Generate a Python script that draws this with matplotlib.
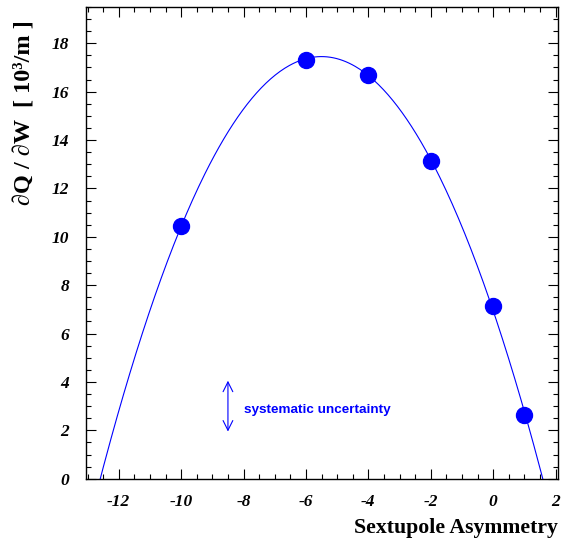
import numpy as np
import matplotlib
matplotlib.use('Agg')
import matplotlib.pyplot as plt
from matplotlib.ticker import MultipleLocator

# measured points (sextupole asymmetry vs dQ/dW)
asym = [-10, -6, -4, -2, 0, 1]
dqdw = [10.45, 17.3, 16.7, 13.15, 7.15, 2.65]

plt.rcParams['axes.unicode_minus'] = False
serif = ['Liberation Serif', 'DejaVu Serif']

fig = plt.figure(figsize=(5.70, 5.44), dpi=100)
ax = fig.add_axes([86/570, 1 - 478.7/544, (558 - 86)/570, (478.7 - 7)/544])

# parabola fit through the points
c = np.polyfit(asym, dqdw, 2)
xf = np.linspace(-13.0, 2.0, 300)
ax.plot(xf, np.polyval(c, xf), color='blue', lw=0.8)
ax.plot(asym, dqdw, 'o', color='blue', ms=11.5, mec='blue')

ax.set_xlim(-13.05, 2.08)
ax.set_ylim(0, 19.5)
ax.xaxis.set_major_locator(MultipleLocator(2))
ax.xaxis.set_minor_locator(MultipleLocator(0.5))
ax.yaxis.set_major_locator(MultipleLocator(2))
ax.yaxis.set_minor_locator(MultipleLocator(0.5))
ax.tick_params(which='both', direction='in', top=True, right=True, width=0.8)
ax.tick_params(which='major', length=7)
ax.tick_params(which='minor', length=3.5)
ax.tick_params(axis='y', pad=12)
ax.tick_params(axis='x', pad=11)
for lab in ax.get_xticklabels() + ax.get_yticklabels():
    lab.set_family(serif)
    lab.set_fontweight('bold')
    lab.set_fontstyle('italic')
    lab.set_fontsize(12.5)
for s in ax.spines.values():
    s.set_linewidth(1.0)

# systematic uncertainty marker
ax.annotate('', xy=(-8.5, 1.95), xytext=(-8.5, 4.05),
            arrowprops=dict(arrowstyle='<->,head_length=0.5,head_width=0.25',
                            mutation_scale=14, color='blue', lw=0.8,
                            shrinkA=0, shrinkB=0))
ax.text(-8.0, 2.85, 'systematic uncertainty', color='blue', fontsize=9.7,
        family=['Liberation Sans', 'DejaVu Sans'], fontweight='bold',
        va='center', ha='left')

fig.text(558/570, 1 - 528/544, 'Sextupole Asymmetry', ha='right', va='center',
         family=serif, fontweight='bold', fontsize=15.7)
fig.text(25/570, 1 - 20/544, '\u2202Q / \u2202W  [ 10\u00b3/m ]', rotation=90,
         ha='center', va='top', family=serif, fontweight='bold', fontsize=17.5)

fig.savefig('out.png', dpi=100)
